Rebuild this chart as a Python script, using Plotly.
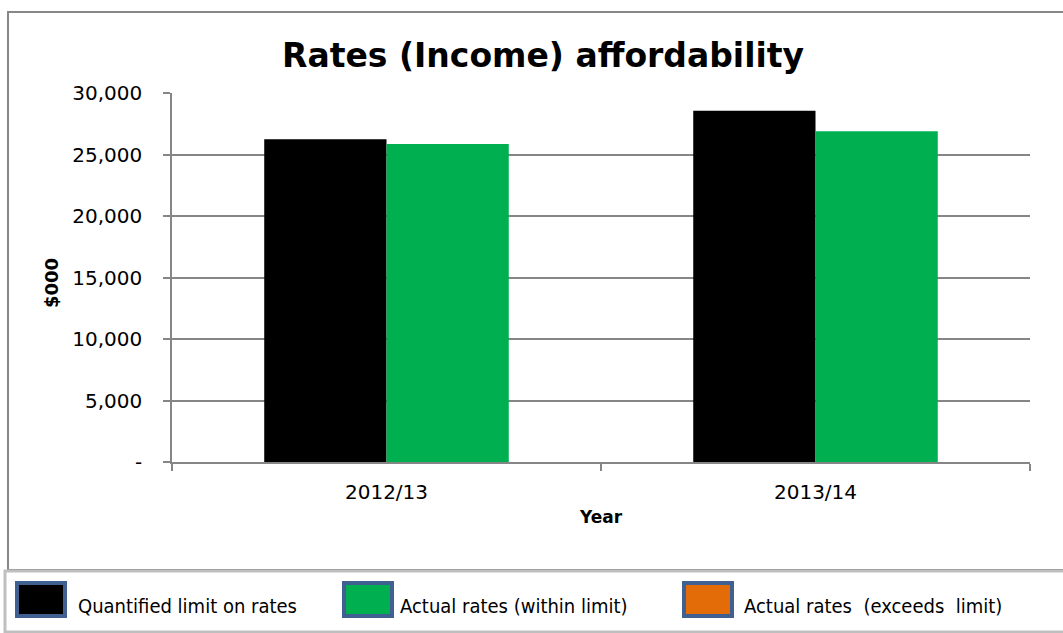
import plotly.graph_objects as go

# ---- data ----
years = ["2012/13", "2013/14"]
series_names = ["Quantified limit on rates", "Actual rates (within limit)", "Actual rates  (exceeds  limit)"]
quantified_limit = [26250, 28550]
actual_within = [25850, 26900]
actual_exceeds = [None, None]
series_colors = ["#000000", "#00B050", "#E36C09"]
series_groups = ["limit", "actual", "actual"]
y_tick_vals = [0, 5000, 10000, 15000, 20000, 25000, 30000]
y_tick_text = ["-", "5,000", "10,000", "15,000", "20,000", "25,000", "30,000"]

W, H = 1063, 633
L, R, T, B = 172, 1030, 93, 462

def px(x):
    return (x - L) / (R - L)

def py(y):
    return (B - y) / (B - T)

fig = go.Figure()
for name, vals, col, grp in zip(series_names, [quantified_limit, actual_within, actual_exceeds],
                                series_colors, series_groups):
    fig.add_trace(go.Bar(x=years, y=vals, name=name, offsetgroup=grp,
                         marker=dict(color=col, line=dict(width=0)), showlegend=False))

shapes = []
annotations = []
# outer chart frame
shapes.append(dict(type="rect", xref="paper", yref="paper", x0=px(8), x1=px(1075), y0=py(570), y1=py(12),
                   line=dict(color="#878787", width=2), layer="below"))
# legend box
shapes.append(dict(type="rect", xref="paper", yref="paper", x0=px(5), x1=px(1075), y0=py(632), y1=py(571),
                   line=dict(color="#BFBFBF", width=3), fillcolor="white", layer="below"))

legend_box_x = [15, 342, 682]
legend_text_x = [76, 398, 742]
for i, (name, col) in enumerate(zip(series_names, series_colors)):
    x0 = legend_box_x[i]
    shapes.append(dict(type="rect", xref="paper", yref="paper", x0=px(x0 + 2), x1=px(x0 + 50),
                       y0=py(616), y1=py(583), fillcolor=col, line=dict(color="#3F6090", width=4)))
    annotations.append(dict(xref="paper", yref="paper", x=px(legend_text_x[i]), y=py(606), text=name,
                            showarrow=False, xanchor="left", yanchor="middle",
                            font=dict(family="Liberation Sans Narrow, DejaVu Sans Condensed, sans-serif",
                                      size=20, color="#000000")))

# title
annotations.append(dict(xref="paper", yref="paper", x=px(543), y=py(55), text="<b>Rates (Income) affordability</b>",
                        showarrow=False, xanchor="center", yanchor="middle",
                        font=dict(family="DejaVu Sans, sans-serif", size=33, color="#000000")))
# axis titles
annotations.append(dict(xref="paper", yref="paper", x=px(601), y=py(517), text="<b>Year</b>",
                        showarrow=False, xanchor="center", yanchor="middle",
                        font=dict(family="DejaVu Sans", size=17, color="#000000")))
annotations.append(dict(xref="paper", yref="paper", x=px(51), y=py(283), text="<b>$000</b>", textangle=-90,
                        showarrow=False, xanchor="center", yanchor="middle",
                        font=dict(family="DejaVu Sans", size=18, color="#000000")))

fig.update_layout(
    width=W, height=H,
    margin=dict(l=L, r=W - R, t=T, b=H - B, pad=0),
    paper_bgcolor="white", plot_bgcolor="white",
    barmode="group", bargap=0.43, bargroupgap=0,
    showlegend=False,
    shapes=shapes, annotations=annotations,
    xaxis=dict(type="category", showgrid=False, showline=True, linecolor="#868686", linewidth=1.5,
               ticks="outside", tickson="boundaries", ticklen=7, tickcolor="#868686", tickwidth=1.5,
               tickfont=dict(family="DejaVu Sans", size=20, color="#000000"), ticklabelstandoff=11),
    yaxis=dict(range=[0, 30000], tickvals=y_tick_vals, ticktext=y_tick_text, showgrid=True,
               gridcolor="#868686", gridwidth=1.5, showline=True, linecolor="#868686", linewidth=1.5,
               ticks="outside", ticklen=7, tickcolor="#868686", tickwidth=1.5, zeroline=False,
               tickfont=dict(family="DejaVu Sans", size=20, color="#000000"), ticklabelstandoff=17),
)

fig.write_html("out.html")
